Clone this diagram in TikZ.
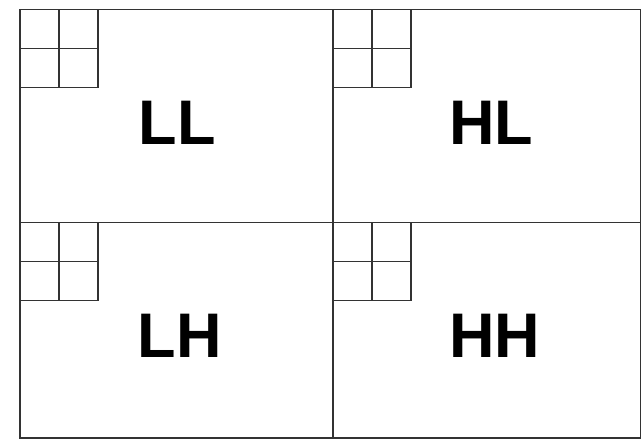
\documentclass[tikz,border=0pt]{standalone}
\usepackage{fontspec}
\setmainfont{Liberation Sans}
\usetikzlibrary{positioning}

\tikzset{
  band/.style={draw=black!80, line width=1.3pt},
  cell/.style={draw=black!80, line width=1.1pt},
  bandlabel/.style={font=\fontsize{63}{63}\selectfont\bfseries, inner sep=0pt}
}

\begin{document}
\begin{tikzpicture}[x=1pt,y=-1pt]
\useasboundingbox (0,0) rectangle (641,442);
% outer frame and the four sub-bands
\draw[band] (20,9.5) rectangle (640.5,438);
\draw[band] (333,9.5) -- (333,438);
\draw[band] (20,222.5) -- (641,222.5);
% small 2x2 grids in each corner
\foreach \x/\y in {20/9.5,333/9.5,20/222.5,333/222.5} {
  \draw[cell] (\x,\y) rectangle ++(78,78);
  \draw[cell] (\x+39,\y) -- ++(0,78);
  \draw[cell] (\x,\y+39) -- ++(78,0);
}
% labels
\node[bandlabel] (ll) at (177,122.5) {LL};
\node[bandlabel] (hl) at (491.5,122.5) {HL};
\node[bandlabel] (lh) at (179.5,336) {LH};
\node[bandlabel] (hh) at (495,335.5) {HH};
\end{tikzpicture}
\end{document}
